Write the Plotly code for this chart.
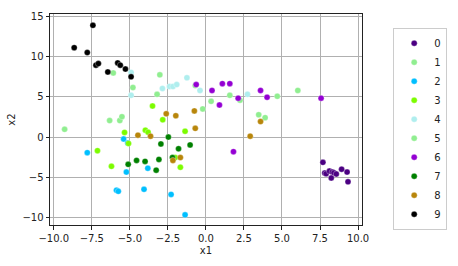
import plotly.graph_objects as go

labels = ["0", "1", "2", "3", "4", "5", "6", "7", "8", "9"]
colors = ["#4B0082", "#90EE90", "#00BFFF", "#7CFC00", "#AFEEEE",
          "#90EE90", "#9400D3", "#008000", "#B8860B", "#000000"]

x0 = [7.69, 7.81, 7.90, 8.12, 8.30, 8.41, 8.57, 8.24, 8.92, 9.28, 9.34]
y0 = [-3.14, -4.47, -4.56, -4.23, -4.35, -4.44, -4.59, -5.08, -3.99, -4.35, -5.56]

x1 = [-6.09, -4.80, -6.33, -5.66, -9.29, 0.34, -0.21, 1.57, 6.04]
y1 = [7.98, 6.17, 2.06, 2.06, 0.97, 4.45, 3.51, 5.20, 5.80]

x2 = [-7.80, -5.41, -5.14, -5.23, -3.82, -5.88, -5.76, -4.07, -2.29, -1.37]
y2 = [-1.93, -0.24, -0.73, -4.35, -3.87, -6.61, -6.74, -6.49, -7.13, -9.67]

x3 = [-3.51, -2.84, -3.98, -3.80, -1.37, -5.35, -7.13, -6.21, -1.68, -2.02, -5.09]
y3 = [3.87, 2.15, 0.86, 0.60, 0.73, 0.58, -1.69, -3.63, -3.75, -2.54, -0.79]

x4 = [-4.92, -4.92, -2.86, -2.39, -2.17, -1.92, -1.25, -0.39, 2.73]
y4 = [8.05, 5.20, 6.05, 6.29, 6.29, 6.53, 7.38, 5.80, 5.32]

x5 = [-3.03, -3.21, -5.52, -0.70, 2.24, 4.69, 3.47, 3.89]
y5 = [7.74, 5.32, 2.54, 6.41, 4.59, 5.08, 2.78, 2.42]

x6 = [-0.64, 0.40, 1.08, 1.57, 0.89, 2.12, 3.59, 4.02, 7.57, 1.81]
y6 = [6.53, 5.80, 6.65, 6.65, 3.99, 4.84, 5.80, 4.96, 4.84, -1.81]

x7 = [-2.47, -2.96, -1.80, -1.04, -5.11, -4.56, -4.00, -3.09, -3.27, -2.20]
y7 = [0.00, -0.85, -1.45, -0.97, -3.39, -2.90, -3.02, -2.78, -4.11, -2.54]

x8 = [-2.61, -1.98, -0.76, -0.70, -4.47, -3.64, -2.17, -1.68, 2.91, 3.59]
y8 = [2.90, 2.66, 3.26, 1.09, 0.24, 0.12, -2.90, -2.54, 0.12, 1.93]

x9 = [-7.43, -8.66, -7.80, -7.23, -7.07, -6.45, -5.80, -5.63, -5.29, -4.92]
y9 = [13.90, 11.12, 10.52, 8.95, 9.14, 8.10, 9.23, 8.95, 8.46, 7.50]

xs = [x0, x1, x2, x3, x4, x5, x6, x7, x8, x9]
ys = [y0, y1, y2, y3, y4, y5, y6, y7, y8, y9]

x_ticks = [-10.0, -7.5, -5.0, -2.5, 0.0, 2.5, 5.0, 7.5, 10.0]
y_ticks = [-10, -5, 0, 5, 10, 15]

fig = go.Figure()
for lab, col, xv, yv in zip(labels, colors, xs, ys):
    fig.add_trace(go.Scatter(
        x=xv, y=yv, mode="markers", name=lab,
        marker=dict(color=col, size=6, line=dict(color="rgba(255,255,255,0.6)", width=0.5)),
    ))

font = dict(family="DejaVu Sans", size=10, color="#222222")
axis_common = dict(
    showline=True, mirror=True, linecolor="#222222", linewidth=1,
    ticks="outside", ticklen=3.5, tickcolor="#222222", tickwidth=0.8,
    showgrid=True, gridcolor="#b0b0b0", gridwidth=0.8, zeroline=False,
    tickfont=font,
)

fig.update_layout(
    width=458, height=266,
    margin=dict(l=49, r=74, t=11, b=38),
    paper_bgcolor="white", plot_bgcolor="white",
    font=font,
    xaxis=dict(range=[-10.25, 10.26], tickvals=x_ticks,
               ticktext=[f"{v:.1f}".replace("-", "\u2212") for v in x_ticks],
               title=dict(text="x1", font=font, standoff=4), **axis_common),
    yaxis=dict(range=[-10.93, 15.31], tickvals=y_ticks,
               ticktext=[str(v).replace("-", "\u2212") for v in y_ticks],
               title=dict(text="x2", font=font, standoff=4), **axis_common),
    legend=dict(x=1.10, y=0.935, xanchor="left", yanchor="top",
                bordercolor="#cccccc", borderwidth=1, bgcolor="white",
                font=dict(family="DejaVu Sans", size=10, color="#222222"),
                itemwidth=30, tracegroupgap=0),
    showlegend=True,
)

fig.write_html("out.html")
